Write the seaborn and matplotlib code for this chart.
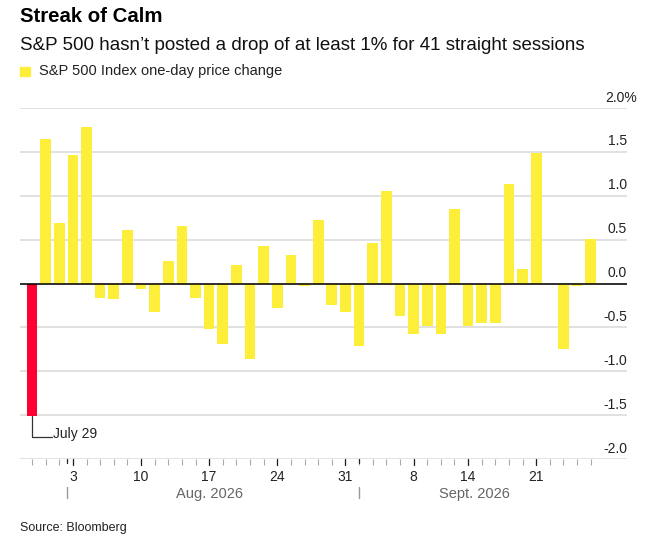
import pandas as pd
import matplotlib
matplotlib.use("Agg")
import matplotlib.pyplot as plt
import matplotlib.transforms as mtransforms
import seaborn as sns

# trading sessions, July 29 - Sept 25 2026
dates = ["2026-07-29", "2026-07-30", "2026-07-31",
         "2026-08-03", "2026-08-04", "2026-08-05", "2026-08-06", "2026-08-07",
         "2026-08-10", "2026-08-11", "2026-08-12", "2026-08-13", "2026-08-14",
         "2026-08-17", "2026-08-18", "2026-08-19", "2026-08-20", "2026-08-21",
         "2026-08-24", "2026-08-25", "2026-08-26", "2026-08-27", "2026-08-28",
         "2026-08-31", "2026-09-01", "2026-09-02", "2026-09-03", "2026-09-04",
         "2026-09-08", "2026-09-09", "2026-09-10", "2026-09-11",
         "2026-09-14", "2026-09-15", "2026-09-16", "2026-09-17", "2026-09-18",
         "2026-09-21", "2026-09-22", "2026-09-23", "2026-09-24", "2026-09-25"]
changes = [-1.51, 1.65, 0.69, 1.47, 1.78, -0.17, -0.18, 0.61,
           -0.06, -0.32, 0.26, 0.65, -0.17,
           -0.52, -0.69, 0.21, -0.86, 0.43,
           -0.28, 0.32, -0.03, 0.72, -0.25,
           -0.33, -0.71, 0.46, 1.05, -0.37,
           -0.58, -0.49, -0.58, 0.85,
           -0.49, -0.45, -0.45, 1.13, 0.16,
           1.49, 0.0, -0.75, -0.03, 0.51]
month_labels = ["Aug. 2026", "Sept. 2026"]
yticks = [2.0, 1.5, 1.0, 0.5, 0.0, -0.5, -1.0, -1.5, -2.0]

YELLOW = "#FDEE39"
RED = "#FF0033"

df = pd.DataFrame({"date": pd.to_datetime(dates), "change": changes})
df["session"] = range(len(df))
df["drop"] = df["change"] <= -1.0

sns.set_theme(style="white")
plt.rcParams["font.family"] = ["Liberation Sans", "DejaVu Sans"]

fig = plt.figure(figsize=(6.55, 5.54), dpi=100)
W, H = 655, 554
ax = fig.add_axes([20 / W, (H - 459) / H, (627 - 20) / W, (459 - 108) / H])

sns.barplot(data=df, x="session", y="change", hue="drop",
            palette={False: YELLOW, True: RED}, dodge=False,
            width=0.78, legend=False, saturation=1, linewidth=0,
            ax=ax, zorder=3)

ax.set_ylim(-2, 2)
ax.set_xlim(-0.88, 43.66)
for v in yticks:
    ax.axhline(v, color="#d9d9d9", lw=1.1, zorder=1)
ax.axhline(0, color="black", lw=1.1, zorder=4)
for s in ax.spines.values():
    s.set_visible(False)
ax.set_xlabel("")
ax.set_ylabel("")
ax.set_yticks([])

# y labels on the right, sitting above the gridlines
for v in yticks:
    lab = f"{v:.1f}%" if v == yticks[0] else f"{v:.1f}"
    dx = 7 if v == yticks[0] else 0
    ax.annotate(lab, xy=(1, v), xycoords=("axes fraction", "data"),
                xytext=(dx, 2.5), textcoords="offset points",
                ha="right", va="bottom", fontsize=10, color="#222222")

# x ticks: every session small, first session of each week labelled
btr = mtransforms.blended_transform_factory(ax.transData, ax.transAxes)
wd = df["date"].dt.dayofweek.tolist()
major = [i for i in range(1, len(df)) if wd[i] < wd[i - 1]]
ax.set_xticks(df["session"])
ax.set_xticklabels([""] * len(df))
ax.tick_params(axis="x", length=4, width=0.8, color="#aaaaaa", bottom=True)
for i in major:
    ax.plot([i, i], [0, -0.018], transform=btr, color="#222222", lw=0.9, clip_on=False)
    ax.annotate(str(df["date"][i].day), xy=(i, 0), xycoords=("data", "axes fraction"),
                xytext=(0, -8), textcoords="offset points",
                ha="center", va="top", fontsize=10, color="#222222")

# month markers
month_marks = [2.6, 24.0]
month_centers = [13.0, 32.5]
for m in month_marks:
    ax.plot([m, m], [0, -0.012], transform=btr, color="#222222", lw=0.9, clip_on=False)
    ax.plot([m, m], [-0.079, -0.111], transform=btr, color="#999999", lw=1.0, clip_on=False)
for c, lab in zip(month_centers, month_labels):
    ax.annotate(lab, xy=(c, 0), xycoords=("data", "axes fraction"),
                xytext=(0, -20.5), textcoords="offset points",
                ha="center", va="top", fontsize=10.5, color="#666666")

# July 29 call-out
y0 = df["change"][0]
ax.plot([0, 0, 1.5], [y0, -1.75, -1.75], color="#333333", lw=0.9, zorder=5, clip_on=False)
ax.text(1.52, -1.72, "July 29", ha="left", va="center", fontsize=10, color="#222222")

# header
fig.text(20 / W, 1 - 17 / H, "Streak of Calm", fontsize=14.7, fontweight="bold",
         ha="left", va="center", color="black")
fig.text(20 / W, 1 - 45 / H, "S\u0026P 500 hasn\u2019t posted a drop of at least 1% for 41 straight sessions",
         fontsize=13.5, ha="left", va="center", color="#111111")
fig.patches.append(plt.Rectangle((20 / W, 1 - 76 / H), 10 / W, 9 / H,
                                 transform=fig.transFigure, color=YELLOW, figure=fig))
fig.text(39 / W, 1 - 71 / H, "S\u0026P 500 Index one-day price change",
         fontsize=10.5, ha="left", va="center", color="#222222")
fig.text(20 / W, 1 - 528 / H, "Source: Bloomberg", fontsize=9, ha="left", va="center",
         color="#222222")

fig.savefig("out.png", dpi=100)
